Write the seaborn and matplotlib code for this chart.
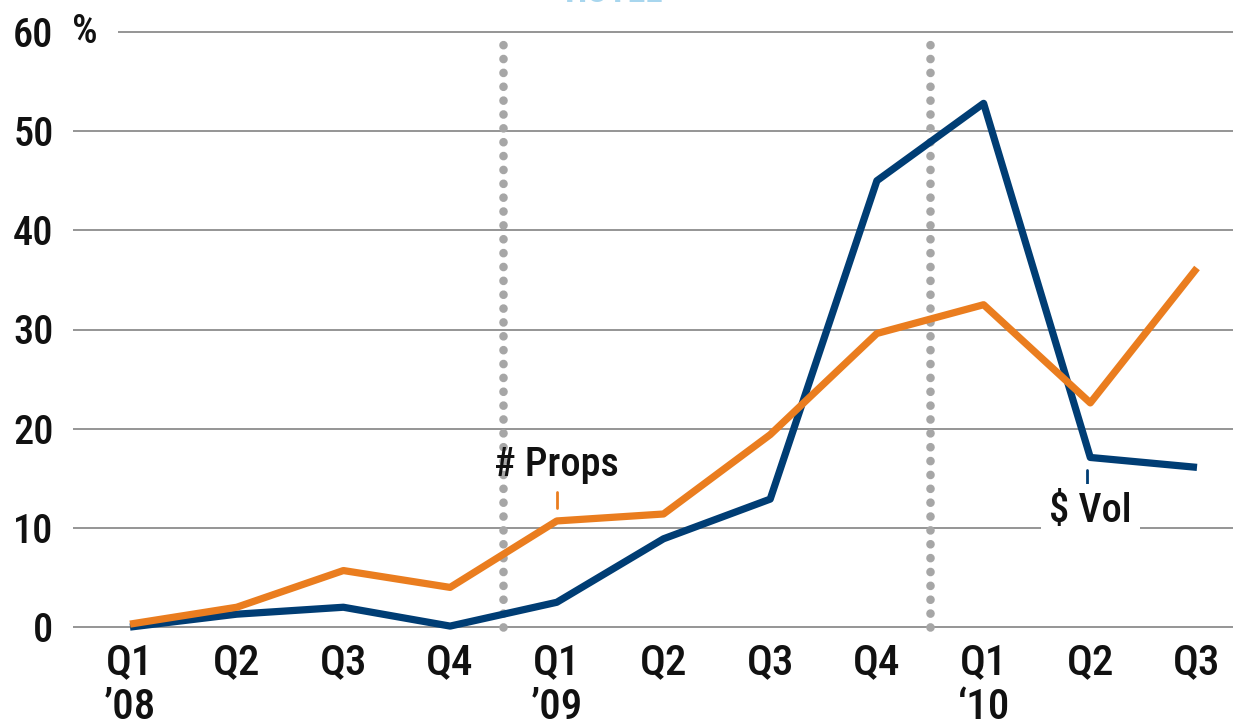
import matplotlib
matplotlib.use("Agg")
import matplotlib.pyplot as plt
import seaborn as sns
import pandas as pd
import numpy as np

quarters = ["Q1\n\u201908", "Q2", "Q3", "Q4", "Q1\n\u201909", "Q2", "Q3", "Q4", "Q1\n\u201810", "Q2", "Q3"]
vol = [0.0, 1.3, 2.0, 0.1, 2.5, 8.9, 12.9, 45.0, 52.8, 17.1, 16.1]
props = [0.3, 2.0, 5.7, 4.0, 10.7, 11.4, 19.4, 29.6, 32.5, 22.6, 36.2]
yticks = [0, 10, 20, 30, 40, 50, 60]
series_names = ["$ Vol", "# Props"]

BLUE = "#003d74"
ORANGE = "#ea7d1f"
TXT = "#111111"

sns.set_theme(style="white")
plt.rcParams["font.family"] = ["Roboto Condensed", "Archivo Narrow", "PT Sans Narrow",
                               "Barlow Semi Condensed", "Liberation Sans Narrow",
                               "Sofia Sans Condensed", "Liberation Sans", "DejaVu Sans"]
plt.rcParams["font.weight"] = "medium"

idx = list(range(len(quarters)))
df = pd.DataFrame({
    "q": idx * 2,
    "value": vol + props,
    "series": [series_names[0]] * len(idx) + [series_names[1]] * len(idx),
})

fig = plt.figure(figsize=(12.33, 7.26), dpi=100)
ax = fig.add_axes([73 / 1233, (726 - 637) / 726, 1 - 73 / 1233, (637 - 22) / 726])

x_left = -(130 - 73) / 106.7
x_right = 10 + (1233 - 1197) / 106.7
ax.set_xlim(x_left, x_right)
ax.set_ylim(-1, 61)

# gridlines
for v in yticks:
    xmin = x_left if v != 60 else -(130 - 118) / 106.7
    ax.hlines(v, xmin, x_right, color="#8c8c8c", lw=1.3, zorder=1)

# dotted separators
for xv in [3.5, 7.5]:
    ax.vlines(xv, 0, 60, colors="#a6a6a6", lw=6.2, linestyles=(0, (0.01, 1.6)),
              capstyle="round", zorder=2)

sns.lineplot(data=df, x="q", y="value", hue="series",
             palette={series_names[0]: BLUE, series_names[1]: ORANGE},
             lw=5.2, legend=False, ax=ax, zorder=3, solid_capstyle="butt")

for s in ax.spines.values():
    s.set_visible(False)

ax.set_xticks(idx)
ax.set_xticklabels(quarters, fontsize=31, color=TXT, linespacing=1.12, va="top",
                   fontweight="medium")
ax.set_yticks(yticks)
ax.set_yticklabels([str(v) for v in yticks], fontsize=29, color=TXT, fontweight="medium")
ax.tick_params(axis="both", length=0)
ax.tick_params(axis="x", pad=4)
ax.tick_params(axis="y", pad=14)
ax.set_xlabel("")
ax.set_ylabel("")

# % unit next to 60
ax.text(-(130 - 72) / 106.7, 60, "%", fontsize=29, color=TXT, fontweight="medium",
        ha="left", va="center", zorder=4)

# series labels
ax.text(4.0, 16.3, "# Props", fontsize=29, color=TXT, ha="center", va="center",
        fontweight="medium", zorder=4)
ax.plot([4.0, 4.0], [12.0, 13.6], color=ORANGE, lw=2, zorder=3)
ax.text(9.0, 11.7, "$ Vol", fontsize=29, color=TXT, ha="center", va="center", zorder=4,
        fontweight="medium", bbox=dict(facecolor="white", edgecolor="none", pad=6))
ax.plot([8.97, 8.97], [14.3, 15.8], color=BLUE, lw=2, zorder=3)

# clipped title fragment at top
fig.text(0.498, 1.0 - 2 / 726, "HOTEL", fontsize=26, fontweight="bold", color="#a8d6ee",
         ha="center", va="baseline")

fig.savefig("out.png", dpi=100)
